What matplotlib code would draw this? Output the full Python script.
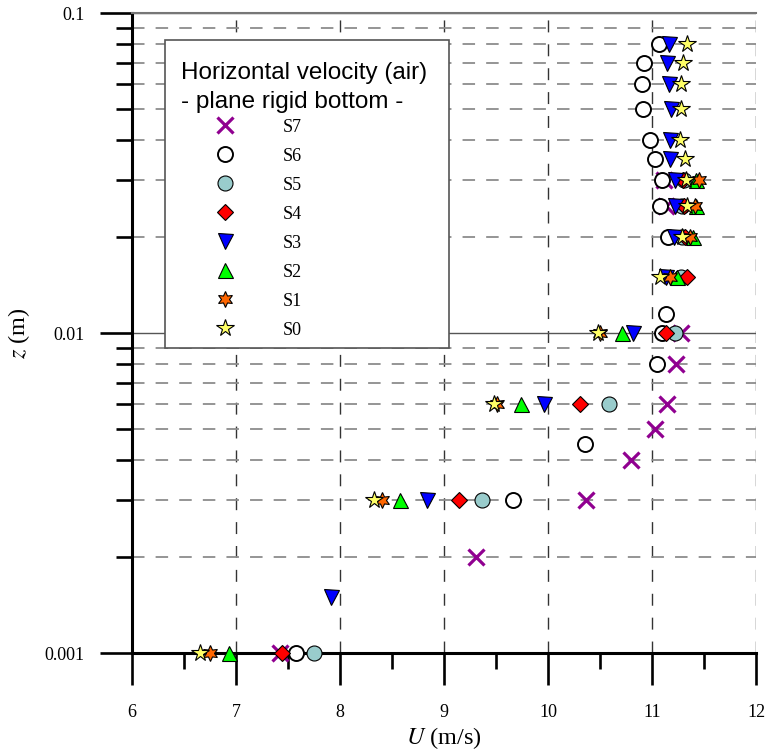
import numpy as np
import matplotlib
matplotlib.use("Agg")
import matplotlib.pyplot as plt
from matplotlib.patches import Rectangle
from matplotlib.ticker import LogLocator, NullFormatter, FixedLocator, FixedFormatter, MultipleLocator

plt.rcParams['font.family'] = ['Liberation Serif', 'DejaVu Serif']
plt.rcParams['mathtext.fontset'] = 'stix'
plt.rcParams['lines.scale_dashes'] = False

# heights (m) and velocities (m/s) per station
z_S7 = [0.001, 0.002, 0.003, 0.004, 0.005, 0.006, 0.008, 0.01, 0.025, 0.03]
u_S7 = [7.42, 9.31, 10.37, 10.80, 11.03, 11.14, 11.23, 11.28, 11.13, 11.12]

z_S6 = [0.001, 0.003, 0.0045, 0.008, 0.01, 0.0115, 0.02, 0.025, 0.03, 0.035,
        0.04, 0.05, 0.06, 0.07, 0.08]
u_S6 = [7.58, 9.66, 10.36, 11.05, 11.10, 11.13, 11.15, 11.08, 11.10, 11.03,
        10.98, 10.91, 10.90, 10.92, 11.07]

z_S5 = [0.001, 0.003, 0.006, 0.01, 0.015, 0.02, 0.025, 0.03]
u_S5 = [7.75, 9.37, 10.59, 11.22, 11.28, 11.29, 11.29, 11.31]

z_S4 = [0.001, 0.003, 0.006, 0.01, 0.015, 0.02, 0.025, 0.03]
u_S4 = [7.44, 9.14, 10.31, 11.13, 11.34, 11.32, 11.31, 11.30]

z_S3 = [0.0015, 0.003, 0.006, 0.01, 0.015, 0.02, 0.025, 0.03, 0.035, 0.04,
        0.05, 0.06, 0.07, 0.08]
u_S3 = [7.91, 8.84, 9.96, 10.82, 11.13, 11.21, 11.22, 11.22, 11.17, 11.17,
        11.18, 11.16, 11.14, 11.16]

z_S2 = [0.001, 0.003, 0.006, 0.01, 0.015, 0.02, 0.025, 0.03]
u_S2 = [6.93, 8.58, 9.74, 10.71, 11.24, 11.39, 11.42, 11.42]

z_S1 = [0.001, 0.003, 0.006, 0.01, 0.015, 0.02, 0.025, 0.03]
u_S1 = [6.75, 8.40, 9.51, 10.50, 11.17, 11.37, 11.41, 11.45]

z_S0 = [0.001, 0.003, 0.006, 0.01, 0.015, 0.02, 0.025, 0.03, 0.035, 0.04,
        0.05, 0.06, 0.07, 0.08]
u_S0 = [6.65, 8.33, 9.48, 10.48, 11.08, 11.29, 11.34, 11.33, 11.32, 11.27,
        11.28, 11.28, 11.30, 11.34]

y_ticks = [0.001, 0.01, 0.1]
y_tick_labels = ['0.001', '0.01', '0.1']
x_ticks = [6, 7, 8, 9, 10, 11, 12]

fig = plt.figure(figsize=(7.68, 7.51), dpi=100)
ax = fig.add_axes([132 / 768, 98 / 751, 624 / 768, 640 / 751])

kw = dict(ls='none', clip_on=False, mec='black', mew=0.8)
ax.plot(u_S7, z_S7, marker='x', ms=11, color='#900090', mew=2.3, ls='none',
        clip_on=False, label='S7', zorder=3)
ax.plot(u_S6, z_S6, marker='o', ms=10.8, mfc='white', label='S6', zorder=3,
        **dict(kw, mew=1.4))
ax.plot(u_S5, z_S5, marker='o', ms=10.8, mfc='#99CCCC', label='S5', zorder=3, **kw)
ax.plot(u_S4, z_S4, marker='D', ms=7.8, mfc='#FF0000', label='S4', zorder=3, **kw)
ax.plot(u_S3, z_S3, marker='v', ms=10.8, mfc='#0000FF', label='S3', zorder=3, **kw)
ax.plot(u_S2, z_S2, marker='^', ms=10.8, mfc='#00FF00', label='S2', zorder=3, **kw)
ax.plot(u_S1, z_S1, marker=(6, 1, 0), ms=11.5, mfc='#FF6600', label='S1', zorder=3, **kw)
ax.plot(u_S0, z_S0, marker='*', ms=13, mfc='#FFFF66', label='S0', zorder=3, **kw)

ax.set_yscale('log')
ax.set_xlim(6, 12)
ax.set_ylim(0.001, 0.1)

ax.xaxis.set_major_locator(FixedLocator(x_ticks))
ax.xaxis.set_minor_locator(MultipleLocator(0.5))
ax.yaxis.set_major_locator(FixedLocator(y_ticks))
ax.yaxis.set_major_formatter(FixedFormatter(y_tick_labels))
ax.yaxis.set_minor_locator(LogLocator(base=10, subs=np.arange(2, 10), numticks=10))
ax.yaxis.set_minor_formatter(NullFormatter())

ax.tick_params(axis='both', which='major', direction='out', length=23, width=1.9,
               labelsize=13)
ax.tick_params(axis='both', which='minor', direction='out', length=11.5, width=1.9)
ax.tick_params(axis='x', which='major', pad=14)
ax.tick_params(axis='y', which='major', pad=11)

# grid
ax.grid(which='major', axis='x', color='#333333', lw=1.0, ls=(0, (8.6, 8.6)))
ax.grid(which='minor', axis='y', color='#8c8c8c', lw=1.3, ls=(0, (9, 8)))
ax.grid(which='major', axis='y', color='#555555', lw=1.0, ls='-')
ax.set_axisbelow(True)

ax.spines['left'].set_linewidth(2.2)
ax.spines['bottom'].set_linewidth(2.2)
ax.spines['top'].set_color('#777777')
ax.spines['top'].set_linewidth(1.5)
ax.spines['right'].set_visible(False)

ax.set_xlabel('$\\mathit{U}$ (m/s)', fontsize=17.5, labelpad=3)
ax.set_ylabel('$\\mathit{z}$ (m)', fontsize=17.5, labelpad=9)

# legend box
box = Rectangle((0.0529, 0.4766), 0.4551, 0.4812, transform=ax.transAxes,
                facecolor='white', edgecolor='#555555', lw=1.2, zorder=4)
ax.add_patch(box)

leg = ax.legend(loc='upper left', bbox_to_anchor=(0.0785, 0.9227), borderaxespad=0,
                title='Horizontal velocity (air)\n- plane rigid bottom -',
                title_fontproperties={'family': 'Liberation Sans', 'size': 17.5},
                prop={'size': 13}, alignment='left', handlelength=4.9,
                handletextpad=0.75, labelspacing=0.665, borderpad=0,
                frameon=False)
leg.get_title().set_multialignment('left')
leg.get_title().set_linespacing(1.39)
leg._legend_box.sep = 4
leg.set_zorder(5)

fig.savefig('out.png', dpi=100)
